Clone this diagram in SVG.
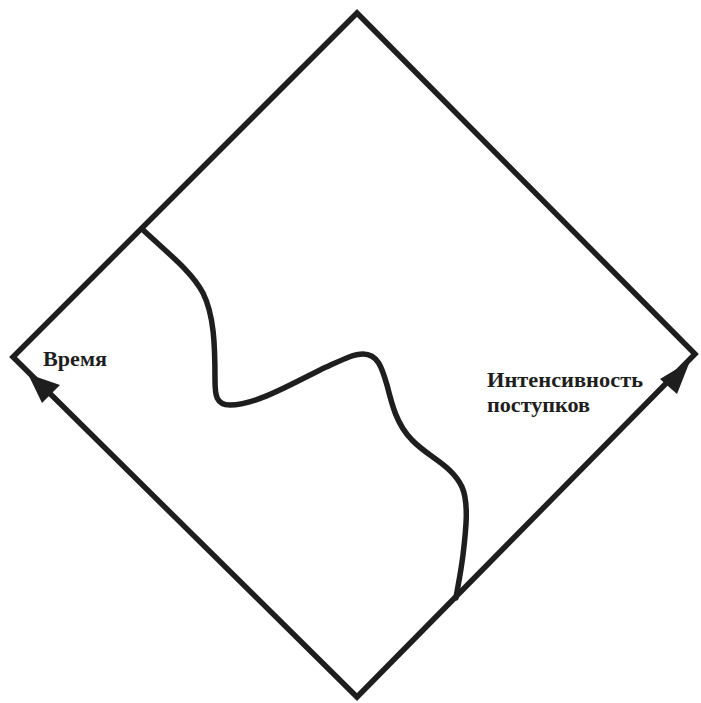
<svg xmlns="http://www.w3.org/2000/svg" width="701" height="703" viewBox="0 0 701 703">
<style>
.edge{fill:none;stroke:#1e1e1e;stroke-width:5.5;stroke-linejoin:miter;stroke-linecap:butt}
.curve{fill:none;stroke:#1e1e1e;stroke-width:5.5;stroke-linecap:round;stroke-linejoin:round}
.head{fill:#1e1e1e;stroke:none}
.lbl{font-family:"Liberation Serif","Times New Roman",serif;font-weight:bold;font-size:21px;fill:#1e1e1e}
</style>
<rect width="701" height="703" fill="#ffffff"/>
<g id="connectors">
<polygon class="edge" points="357,13 695,354 357,697 13,357"/>
<path class="curve" d="M142,229 C170,255 192,272 203,293 C214,315 215,345 215,380 C215,395 216,405 230,405 C255,405 290,385 320,370 C340,361 352,354 363,354 C378,354 382,368 387,385 C392,405 397,425 412,440 C428,457 452,465 462,487 C469,503 466,530 463,555 C460,578 457,590 456,598"/>
<polygon class="head" points="28,374 60,385 42,403"/>
<polygon class="head" points="690,361 677,394 660,379"/>
</g>
<g id="label-vremya"><text class="lbl" x="43" y="366" textLength="64" lengthAdjust="spacingAndGlyphs">Время</text></g>
<g id="label-intensity">
<text class="lbl" x="487" y="387" textLength="156" lengthAdjust="spacingAndGlyphs">Интенсивность</text>
<text class="lbl" x="487" y="412" textLength="103" lengthAdjust="spacingAndGlyphs">поступков</text>
</g>
</svg>
